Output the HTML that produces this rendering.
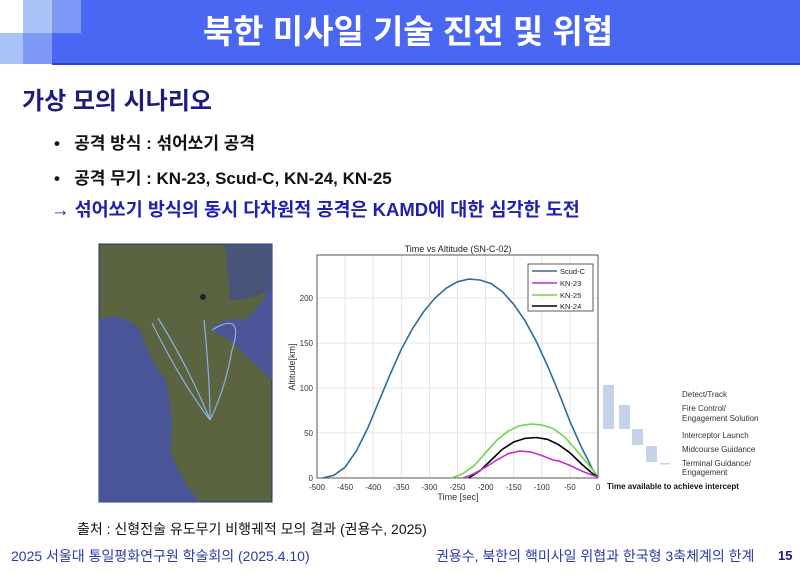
<!DOCTYPE html>
<html><head><meta charset="utf-8"><style>
body{margin:0;width:800px;height:573px;background:#fff;position:relative;overflow:hidden;font-family:"Liberation Sans","Noto Sans CJK KR",sans-serif}
.a{position:absolute;white-space:nowrap}
</style></head><body>
<div class="a" style="left:81px;top:0;width:719px;height:64px;background:#4a67f1"></div>
<div class="a" style="left:52px;top:33px;width:29px;height:31px;background:#4a67f1"></div>
<div class="a" style="left:23px;top:0;width:29px;height:33px;background:#a9c3f9"></div>
<div class="a" style="left:52px;top:0;width:29px;height:33px;background:#7f99f6"></div>
<div class="a" style="left:0;top:33px;width:23px;height:31px;background:#a9c3f9"></div>
<div class="a" style="left:23px;top:33px;width:29px;height:31px;background:#7f99f6"></div>
<div class="a" style="left:52px;top:63px;width:748px;height:2px;background:#2a45c8"></div>
<div class="a" style="left:108px;top:11px;width:600px;text-align:center;color:#fff;font-size:33px;font-weight:bold;line-height:42px">북한 미사일 기술 진전 및 위협</div>
<div class="a" style="left:22px;top:81px;color:#1c1c80;font-size:24px;font-weight:bold">가상 모의 시나리오</div>
<div class="a" style="left:54px;top:129px;font-size:17px;font-weight:bold;color:#111">•&nbsp;&nbsp; 공격 방식 : 섞어쏘기 공격</div>
<div class="a" style="left:54px;top:164px;font-size:17px;font-weight:bold;color:#111">•&nbsp;&nbsp; 공격 무기 : KN-23, Scud-C, KN-24, KN-25</div>
<div class="a" style="left:51px;top:196px;font-size:18.5px;font-weight:bold;color:#2020b0">→ 섞어쏘기 방식의 동시 다차원적 공격은 KAMD에 대한 심각한 도전</div>
<svg class="a" style="left:0;top:0" width="800" height="573">
<rect x="99" y="244" width="173" height="258" fill="#5a6440" stroke="#203080" stroke-width="1"/>
<path d="M99 320 Q120 310 140 330 Q150 360 165 380 Q175 420 170 450 Q180 480 200 502 L99 502Z" fill="#4a5598"/>
<path d="M210 330 Q225 315 245 320 Q270 300 272 270 L272 380 Q250 360 230 340Z" fill="#4d5598"/>
<path d="M225 244 L272 244 L272 290 Q250 300 230 300Z" fill="#45508a" opacity=".8"/>
<g fill="none" stroke="#8fb0e0" stroke-width="1.2"><path d="M152 323 Q180 380 210 420"/><path d="M158 318 Q190 370 210 420"/><path d="M204 320 Q210 380 210 420"/><path d="M212 330 Q245 310 232 350 Q225 390 210 420"/></g>
<circle cx="203" cy="297" r="3" fill="#222"/>
<text x="458" y="252" font-size="9" text-anchor="middle" fill="#222">Time vs Altitude (SN-C-02)</text>
<g id="grid" stroke="#e4e4e4" stroke-width="1"></g>
<rect x="317" y="255" width="281" height="223" fill="none" stroke="#555" stroke-width="1"/>
<g id="tk" font-size="8" fill="#333"></g>
<text x="458" y="500" font-size="9" text-anchor="middle" fill="#333">Time [sec]</text>
<text transform="translate(295,367) rotate(-90)" font-size="9" text-anchor="middle" fill="#333">Altitude[km]</text>
<g id="cv" fill="none" stroke-width="1.6"></g>
<rect x="528" y="264" width="65" height="47" fill="#fff" stroke="#333" stroke-width=".8"/>
<g stroke-width="1.6"><line x1="532" y1="271" x2="557" y2="271" stroke="#2e6b9e"/><line x1="532" y1="283" x2="557" y2="283" stroke="#c330c8"/><line x1="532" y1="295" x2="557" y2="295" stroke="#6fd74a"/><line x1="532" y1="306" x2="557" y2="306" stroke="#000"/></g>
<g font-size="7.5" fill="#222"><text x="560" y="274">Scud-C</text><text x="560" y="286">KN-23</text><text x="560" y="298">KN-25</text><text x="560" y="309">KN-24</text></g>
<g fill="#c5d3ea"><rect x="603" y="385" width="11" height="44"/><rect x="619" y="405" width="11" height="24"/><rect x="632" y="429" width="11" height="16"/><rect x="646" y="446" width="11" height="16"/><rect x="660" y="463" width="10" height="1.5"/></g>
<g font-size="8" fill="#333"><text x="682" y="397">Detect/Track</text><text x="682" y="411">Fire Control/</text><text x="682" y="421">Engagement Solution</text><text x="682" y="438">Interceptor Launch</text><text x="682" y="452">Midcourse Guidance</text><text x="682" y="466">Terminal Guidance/</text><text x="682" y="475">Engagement</text></g>
<text x="607" y="489" font-size="8" font-weight="bold" fill="#111">Time available to achieve intercept</text>
</svg>
<div class="a" style="left:77px;top:519px;font-size:14px;color:#111">출처 : 신형전술 유도무기 비행궤적 모의 결과 (권용수, 2025)</div>
<div class="a" style="left:11px;top:546px;font-size:14px;color:#2a3aa8">2025 서울대 통일평화연구원 학술회의 (2025.4.10)</div>
<div class="a" style="left:436px;top:546px;font-size:14px;color:#2a3aa8">권용수, 북한의 핵미사일 위협과 한국형 3축체계의 한계</div>
<div class="a" style="left:778px;top:548px;font-size:13px;font-weight:bold;color:#1c1c80">15</div>
<script>
var X=t=>598+t*0.562,Y=a=>478-a*0.9,ns="http://www.w3.org/2000/svg";
var g=document.getElementById('grid'),tk=document.getElementById('tk');
function el(p,n,at,tx){var e=document.createElementNS(ns,n);for(var k in at)e.setAttribute(k,at[k]);if(tx!=null)e.textContent=tx;p.appendChild(e);}
for(var t=-500;t<=0;t+=50){el(g,'line',{x1:X(t),x2:X(t),y1:255,y2:478});el(tk,'text',{x:X(t),y:490,'text-anchor':'middle'},t);}
for(var a=0;a<=200;a+=50){el(g,'line',{x1:317,x2:598,y1:Y(a),y2:Y(a)});el(tk,'text',{x:313,y:Y(a)+3,'text-anchor':'end'},a);}
var S={"#2e6b9e":[[-490,0],[-470,3],[-450,12],[-430,30],[-410,55],[-390,85],[-370,115],[-350,143],[-330,166],[-310,185],[-290,200],[-270,211],[-250,218],[-230,221],[-210,220],[-190,216],[-170,207],[-150,193],[-130,175],[-110,152],[-90,125],[-70,95],[-50,63],[-30,35],[-10,10],[0,0]],
"#6fd74a":[[-260,0],[-240,5],[-220,14],[-200,28],[-180,42],[-160,52],[-140,58],[-120,60],[-100,59],[-80,55],[-60,46],[-40,32],[-20,17],[0,2]],
"#000":[[-230,0],[-210,8],[-190,20],[-170,32],[-150,40],[-130,44],[-110,45],[-90,43],[-70,37],[-50,28],[-30,16],[-10,5],[0,1]],
"#c330c8":[[-240,0],[-220,5],[-200,12],[-180,20],[-160,27],[-140,30],[-120,29],[-100,25],[-80,20],[-70,19],[-50,14],[-30,8],[-10,3],[0,1]]};
var cv=document.getElementById('cv');
for(var c in S){el(cv,'polyline',{stroke:c,points:S[c].map(p=>X(p[0])+','+Y(p[1])).join(' ')});}
</script>
</body></html>
